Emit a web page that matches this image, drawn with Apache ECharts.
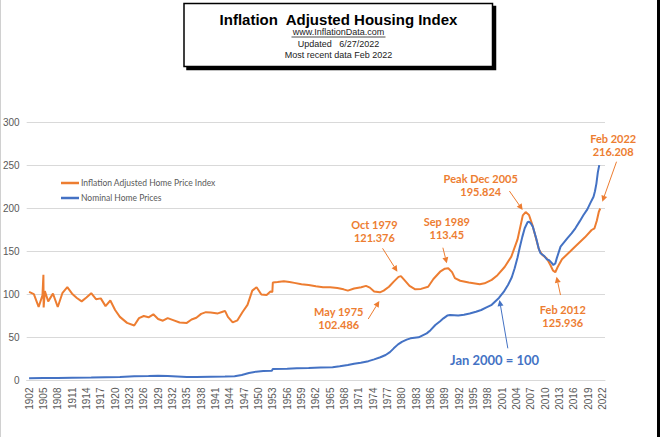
<!DOCTYPE html>
<html>
<head>
<meta charset="utf-8">
<script src="https://cdn.jsdelivr.net/npm/echarts@6/dist/echarts.min.js"></script>
<style>
html,body{margin:0;padding:0;background:#fff;}
#chart{width:660px;height:437px;}
</style>
</head>
<body>
<div id="chart"></div>
<script>
// Tick labels on the year axis
const tickYears = [1902,1905,1908,1911,1914,1917,1920,1923,1926,1929,1932,1935,1938,1941,1944,1947,1950,1953,1956,1959,1962,1965,1968,1971,1974,1977,1980,1983,1986,1989,1992,1995,1998,2001,2004,2007,2010,2013,2016,2019,2022];
const yTicks = [0,50,100,150,200,250,300];

// Inflation Adjusted Home Price Index  [year, value]
const adjustedIndex = [
[1902,103],[1903,100.5],[1904,85.5],[1904.8,99],[1905,123],[1905.05,85],[1905.3,104],[1906,92],[1907,101],[1908,85.5],
[1909,102],[1910,108.5],[1911,101],[1912,96],[1913,92],[1914,96.5],[1915,101.5],[1916,94.5],[1917,95.5],[1918,86.5],
[1919,93],[1920,82],[1921,74],[1922.5,67],[1924,64],[1925,72.5],[1926,75],[1927,73.5],[1928,77],[1929,71.5],
[1930,69.5],[1931,72.5],[1932,70.5],[1933.5,67.5],[1935,67],[1936,71],[1937,73],[1938,77.5],[1939,79.5],[1940,79],
[1941.5,78],[1942.5,80],[1943,81],[1943.6,74],[1944.6,67.5],[1945.6,70],[1946.7,80],[1947.7,88],[1948.7,104.5],[1949.6,108.5],
[1950.6,100],[1951.7,99.5],[1952.5,103.5],[1952.9,103],[1953,114],[1954,114.5],[1955.3,115.5],[1956.5,114.5],[1957.5,113.5],[1959,112],
[1960.5,111],[1962,109.5],[1963.5,108.5],[1965,108.5],[1966.5,107.5],[1967.8,106],[1968.7,104.5],[1970,107],[1971.5,108.5],[1972.5,110],
[1973.3,108],[1974.2,103.5],[1975.4,102.5],[1976.2,104.5],[1977.3,109],[1978.3,115],[1979.3,120.5],[1979.8,121.4],[1980.5,117],[1981.6,110],
[1982.8,106],[1984,106.5],[1985.5,109],[1986.6,118],[1988,126.5],[1989,130],[1989.7,130.5],[1990.5,126],[1991.1,119],[1992.2,116],
[1994,114],[1996.3,112],[1997.3,113],[1998.8,117],[2000,122.5],[2001.5,132],[2002.9,144],[2004.2,164],[2005.3,192],[2005.9,195.8],
[2006.6,192.5],[2007.3,181],[2008,166.5],[2008.7,152],[2009.4,146],[2010.3,142],[2011.1,134],[2011.6,128],[2012.1,125.9],[2012.6,132],
[2013.5,141],[2015.2,150],[2016.6,157.5],[2018.3,166.5],[2019.7,175],[2020.3,177],[2020.8,186],[2021.2,196],[2021.5,200]
];

// Nominal Home Prices (Jan 2000 = 100)  [year, value]
const nominalPrices = [
[1902,2.5],[1905,3],[1908,2.8],[1911,3.2],[1915,3.4],[1918,3.8],[1921,4.2],[1924,4.8],[1927,5.2],[1929,5.6],
[1931,5.2],[1933,4.6],[1935,4.0],[1937,4.2],[1940,4.5],[1943,4.6],[1945,5],[1946.5,6.5],[1948,8.7],[1949.5,10.3],
[1951,11],[1952.8,11.3],[1953,13.5],[1956,13.8],[1958,14.2],[1960.5,14.5],[1963,15],[1965.5,15.5],[1967,16.5],[1968.7,18],
[1970,19.5],[1971.4,20.7],[1973,22.5],[1974.2,24.6],[1975.5,27],[1976.6,29.6],[1977.5,33],[1978.3,37.4],[1979.2,42],[1980,45],
[1981,47.5],[1981.8,49],[1983.5,50.2],[1985.2,54.8],[1986,58.5],[1987,64.5],[1988,69],[1988.7,72.3],[1989.5,75.5],[1990.1,76.2],
[1991.8,75.5],[1993,76.5],[1994.2,78],[1995.5,80],[1996.6,82],[1997.7,85],[1998.8,88],[2000.3,96],[2001.3,103],[2002.2,111],
[2003,120],[2003.6,130.5],[2004.2,143],[2004.7,155.6],[2005.2,167],[2005.7,177],[2006.3,184],[2006.6,184.7],[2007,182.5],[2007.4,178.8],
[2008.1,165.3],[2008.6,154],[2009,148],[2009.8,144.8],[2010.3,141],[2010.8,140],[2011.3,137],[2011.7,134.3],[2012.1,136],[2012.4,142],
[2013.2,155.6],[2014.6,165.3],[2015.5,171],[2016.3,177],[2017.2,185],[2018,192.5],[2018.8,199],[2019.4,206],[2020.1,213.7],[2020.4,220],
[2020.7,229],[2021,242],[2021.3,250.5]
];

// Callouts: label anchor and arrow, in data units (year, index value)
const callouts = [
  {text:'Oct 1979\n121.376', color:'#ED7D31', at:[1974.24,173.8], from:[1975.96,153.7], to:[1979.06,126.5], size:11},
  {text:'Sep 1989\n113.45',  color:'#ED7D31', at:[1989.40,177.3], from:[1988.58,154.4], to:[1989.40,136.3], size:11},
  {text:'May 1975\n102.486', color:'#ED7D31', at:[1966.80,72.7],  from:[1972.96,71.5],  to:[1975.28,92.4],  size:11},
  {text:'Peak Dec 2005\n195.824', color:'#ED7D31', at:[1996.50,227.7], from:[2002.50,220.3], to:[2005.27,198.3], size:11},
  {text:'Feb 2022\n216.208', color:'#ED7D31', at:[2024.21,273.8], from:[2024.91,254.4], to:[2021.94,207.9], size:11},
  {text:'Feb 2012\n125.936', color:'#ED7D31', at:[2013.67,75.3],  from:[2013.19,99.4],  to:[2012.36,120.7], size:11},
  {text:'Jan 2000 = 100',    color:'#4472C4', at:[1999.40,23.8],  from:[2002.17,37.4],  to:[2000.43,93.6],  size:13}
];

const chart = echarts.init(document.getElementById('chart'), null, {renderer:'svg'});
const AX = "'Liberation Sans', Arial, sans-serif";
const CAL = "Lato, 'Open Sans', sans-serif";

chart.setOption({
  animation:false,
  backgroundColor:'#ffffff',
  grid:{left:20,right:55,top:122.5,bottom:56.5,containLabel:false},
  legend:{
    orient:'vertical', left:56, top:173.5, itemWidth:18, itemHeight:2.5, itemGap:6,
    icon:'rect',
    textStyle:{color:'#595959', fontSize:8.5, fontFamily:CAL, padding:[0,0,0,-3]},
    data:['Inflation Adjusted Home Price Index','Nominal Home Prices']
  },
  xAxis:{
    type:'value', min:1901.5, max:2022.5,
    axisLine:{show:true, lineStyle:{color:'#d9d9d9'}},
    axisTick:{show:false},
    splitLine:{show:false},
    axisLabel:{
      customValues:tickYears, rotate:90, margin:7,
      color:'#595959', fontSize:10, fontFamily:AX,
      formatter:v=>String(Math.round(v))
    }
  },
  yAxis:{
    type:'value', min:yTicks[0], max:yTicks[yTicks.length-1], interval:50,
    axisLine:{show:false}, axisTick:{show:false},
    splitLine:{lineStyle:{color:'#d9d9d9', width:1}},
    axisLabel:{color:'#595959', fontSize:10, fontFamily:AX, margin:7}
  },
  series:[
    {name:'Inflation Adjusted Home Price Index', type:'line', data:adjustedIndex, showSymbol:false,
     lineStyle:{color:'#ED7D31', width:2}, itemStyle:{color:'#ED7D31'}},
    {name:'Nominal Home Prices', type:'line', data:nominalPrices, showSymbol:false,
     lineStyle:{color:'#4472C4', width:2}, itemStyle:{color:'#4472C4'}}
  ]
});

// Title box and callouts
const g = [];
g.push({type:'rect', shape:{x:184, y:3.5, width:308.5, height:63},
  style:{fill:'#fff', stroke:'#000', lineWidth:1.5, shadowColor:'#000', shadowOffsetX:3, shadowOffsetY:3, shadowBlur:0}, z:10});
g.push({type:'text', x:338.5, y:19, z:11, style:{text:'Inflation  Adjusted Housing Index', fill:'#000',
  font:"bold 15px 'Liberation Sans', Arial, sans-serif", align:'center', verticalAlign:'middle'}});
g.push({type:'text', x:338.5, y:32, z:11, style:{text:'www.InflationData.com', fill:'#222',
  font:"9px 'Liberation Sans', Arial, sans-serif", align:'center', verticalAlign:'middle'}});
g.push({type:'line', z:11, shape:{x1:291.5, y1:37, x2:385.5, y2:37}, style:{stroke:'#222', lineWidth:0.8}});
g.push({type:'text', x:338.5, y:43.5, z:11, style:{text:'Updated   6/27/2022', fill:'#222',
  font:"9px 'Liberation Sans', Arial, sans-serif", align:'center', verticalAlign:'middle'}});
g.push({type:'text', x:338.5, y:55, z:11, style:{text:'Most recent data Feb 2022', fill:'#222',
  font:"9px 'Liberation Sans', Arial, sans-serif", align:'center', verticalAlign:'middle'}});
// page frame edges
g.push({type:'rect', shape:{x:657, y:0, width:3, height:437}, style:{fill:'#000'}, z:12});
g.push({type:'line', shape:{x1:0.5, y1:0, x2:0.5, y2:437}, style:{stroke:'#d0d0d0', lineWidth:1}, z:12});

const P = d => chart.convertToPixel({xAxisIndex:0, yAxisIndex:0}, d);
callouts.forEach(c => {
  const a = P(c.at), p1 = P(c.from), p2 = P(c.to);
  g.push({type:'text', x:a[0], y:a[1], z:20, style:{text:c.text, fill:c.color,
    font:'bold ' + c.size + 'px ' + CAL, align:'center', verticalAlign:'middle', lineHeight:c.size+2}});
  const dx = p2[0]-p1[0], dy = p2[1]-p1[1], L = Math.hypot(dx,dy), ux = dx/L, uy = dy/L;
  const hl = 6, hw = 3;
  const bx = p2[0]-ux*hl, by = p2[1]-uy*hl;
  g.push({type:'line', z:20, shape:{x1:p1[0], y1:p1[1], x2:bx, y2:by}, style:{stroke:c.color, lineWidth:1}});
  g.push({type:'polygon', z:20, shape:{points:[[p2[0],p2[1]],[bx-uy*hw, by+ux*hw],[bx+uy*hw, by-ux*hw]]}, style:{fill:c.color}});
});
chart.setOption({graphic:g});
</script>
</body>
</html>
